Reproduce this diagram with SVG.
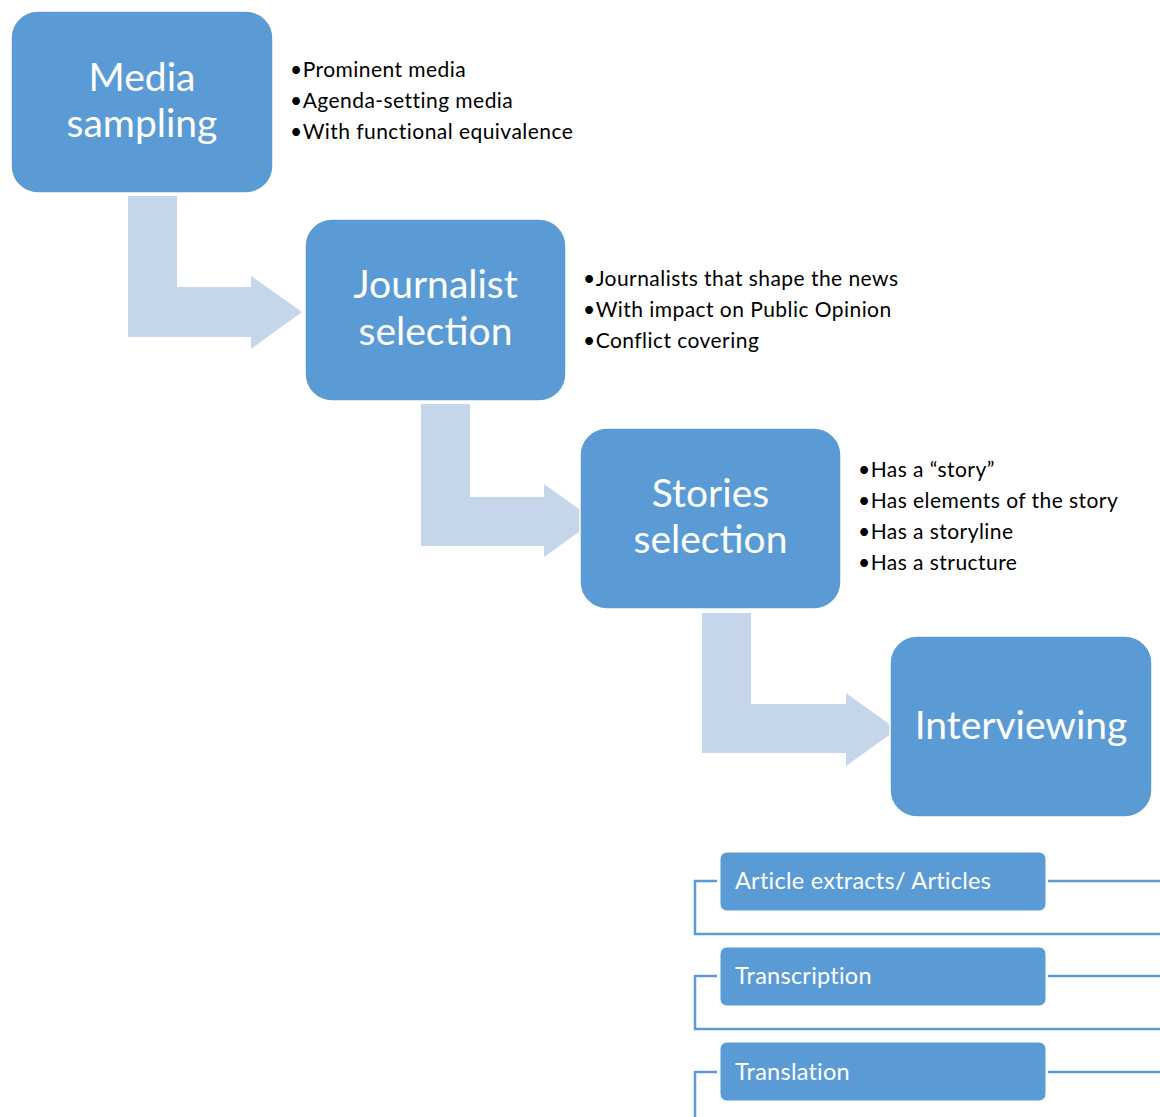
<svg xmlns="http://www.w3.org/2000/svg" width="1160" height="1117" viewBox="0 0 1160 1117">
  <style>
    .step { fill: #5B9BD5; stroke: #FFFFFF; stroke-width: 1.5; }
    .flow { fill: #C5D5EA; }
    .title { font-family: Lato, "Open Sans", sans-serif; font-size: 39px; fill: #FFFFFF; text-anchor: middle; }
    .note { font-family: Lato, "Open Sans", sans-serif; font-size: 21px; letter-spacing: 0.45px; fill: #000000; }
    .item { fill: #5B9BD5; stroke: #FFFFFF; stroke-width: 1; }
    .itemtext { font-family: Lato, "Open Sans", sans-serif; font-size: 23.5px; letter-spacing: 0.25px; fill: #FFFFFF; }
    .bracket { fill: none; stroke: #5B9BD5; stroke-width: 2.5; }
  </style>

  <!-- bent block arrows between the steps -->
  <g id="connectors">
    <polygon class="flow" points="128,196 177,196 177,287 251,287 251,276 302,312 251,349 251,337 128,337"/>
    <polygon class="flow" points="421,404 470,404 470,497 544,497 544,484 595,520.5 544,557 544,546 421,546"/>
    <polygon class="flow" points="702,613 751,613 751,704 846,704 846,693 897,729.5 846,766 846,753 702,753"/>
  </g>

  <g id="media-sampling">
    <rect class="step" x="11" y="11" width="262" height="182" rx="27"/>
    <text class="title" x="142" y="91">Media</text>
    <text class="title" x="142" y="137">sampling</text>
    <text class="note" x="290" y="77">•Prominent media</text>
    <text class="note" x="290" y="108">•Agenda-setting media</text>
    <text class="note" x="290" y="139">•With functional equivalence</text>
  </g>

  <g id="journalist-selection">
    <rect class="step" x="305" y="219" width="261" height="182" rx="27"/>
    <text class="title" x="435.5" y="298">Journalist</text>
    <text class="title" x="435.5" y="345">selection</text>
    <text class="note" x="583" y="286">•Journalists that shape the news</text>
    <text class="note" x="583" y="317">•With impact on Public Opinion</text>
    <text class="note" x="583" y="348">•Conflict covering</text>
  </g>

  <g id="stories-selection">
    <rect class="step" x="580" y="428" width="261" height="181" rx="27"/>
    <text class="title" x="710.5" y="507">Stories</text>
    <text class="title" x="710.5" y="553">selection</text>
    <text class="note" x="858" y="477">•Has a “story”</text>
    <text class="note" x="858" y="508">•Has elements of the story</text>
    <text class="note" x="858" y="539">•Has a storyline</text>
    <text class="note" x="858" y="570">•Has a structure</text>
  </g>

  <g id="interviewing">
    <rect class="step" x="890" y="636" width="262" height="181" rx="27"/>
    <text class="title" x="1021" y="739">Interviewing</text>
  </g>

  <!-- bracket lines framing the output list -->
  <g id="list-lines">
    <path class="bracket" d="M717,881 H695 V934 H1160"/>
    <path class="bracket" d="M1048,881 H1160"/>
    <path class="bracket" d="M717,976 H695 V1029 H1160"/>
    <path class="bracket" d="M1048,976 H1160"/>
    <path class="bracket" d="M717,1072 H695 V1117"/>
    <path class="bracket" d="M1048,1072 H1160"/>
  </g>

  <g id="article-extracts">
    <rect class="item" x="720" y="852" width="326" height="59" rx="7"/>
    <text class="itemtext" x="735" y="889">Article extracts/ Articles</text>
  </g>

  <g id="transcription">
    <rect class="item" x="720" y="947" width="326" height="59" rx="7"/>
    <text class="itemtext" x="735" y="984">Transcription</text>
  </g>

  <g id="translation">
    <rect class="item" x="720" y="1042" width="326" height="59" rx="7"/>
    <text class="itemtext" x="735" y="1080">Translation</text>
  </g>
</svg>
